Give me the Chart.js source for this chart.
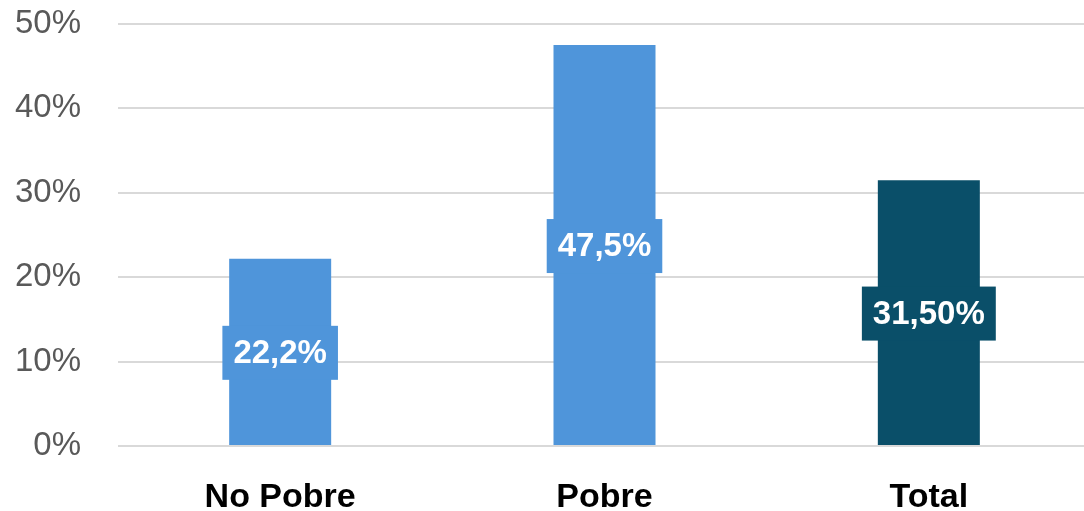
<!DOCTYPE html>
<html>
<head>
<meta charset="utf-8">
<script src="https://cdn.jsdelivr.net/npm/chart.js@4.4.1/dist/chart.umd.min.js"></script>
<style>
  html, body { margin: 0; padding: 0; background: #ffffff; overflow: hidden; }
  #wrap { width: 1091px; height: 511px; position: relative; }
</style>
</head>
<body>
<div id="wrap"><canvas id="povertyChart"></canvas></div>
<script>
// Porcentaje por condición de pobreza
const categories = ['No Pobre', 'Pobre', 'Total'];
const values = [22.2, 47.5, 31.5];
const valueLabels = ['22,2%', '47,5%', '31,50%'];
const barColors = ['#4F95DA', '#4F95DA', '#0A4F69'];
const yTicks = [0, 10, 20, 30, 40, 50];

// boxed value labels centred on each bar
const boxLabels = {
    id: 'boxLabels',
    afterDatasetsDraw(chart) {
        const ctx = chart.ctx;
        const meta = chart.getDatasetMeta(0);
        ctx.save();
        ctx.font = 'bold 33px "Liberation Sans", Arial, sans-serif';
        ctx.textAlign = 'center';
        ctx.textBaseline = 'middle';
        meta.data.forEach((bar, i) => {
            const text = valueLabels[i];
            const w = ctx.measureText(text).width + 22;
            const h = 54;
            const cy = (bar.y + bar.base) / 2 + 1;
            ctx.fillStyle = barColors[i];
            ctx.fillRect(bar.x - w / 2, cy - h / 2, w, h);
            ctx.fillStyle = '#ffffff';
            ctx.fillText(text, bar.x, cy + 1);
        });
        ctx.restore();
    }
};

new Chart(document.getElementById('povertyChart'), {
    type: 'bar',
    data: {
        labels: categories,
        datasets: [{
            data: values,
            backgroundColor: barColors,
            borderWidth: 0,
            categoryPercentage: 1,
            barPercentage: 0.3145
        }]
    },
    options: {
        responsive: true,
        maintainAspectRatio: false,
        animation: false,
        layout: { padding: { top: 24, right: 0, left: 0, bottom: 0 } },
        plugins: {
            legend: { display: false },
            tooltip: { enabled: false }
        },
        scales: {
            x: {
                grid: { display: false, drawTicks: false },
                border: { display: false },
                ticks: {
                    padding: 31,
                    color: '#000000',
                    font: { family: '"Liberation Sans", Arial, sans-serif', size: 34, weight: 'bold' }
                },
                afterFit(scale) { scale.height = 65; scale.paddingLeft = 0; scale.paddingRight = 0; }
            },
            y: {
                min: 0,
                max: 50,
                afterBuildTicks(scale) { scale.ticks = yTicks.map(v => ({ value: v })); },
                grid: { color: '#d9d9d9', lineWidth: 2, drawTicks: false },
                border: { display: false },
                ticks: {
                    padding: 37,
                    color: '#595959',
                    font: { family: '"Liberation Sans", Arial, sans-serif', size: 33 },
                    callback: v => v + '%'
                },
                afterFit(scale) { scale.width = 118; scale.paddingTop = 0; scale.paddingBottom = 0; }
            }
        }
    },
    plugins: [boxLabels]
});
</script>
</body>
</html>
